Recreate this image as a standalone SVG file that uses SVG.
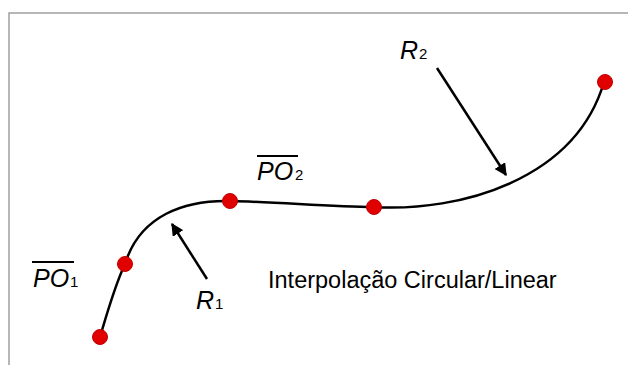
<svg xmlns="http://www.w3.org/2000/svg" width="628" height="365" viewBox="0 0 628 365">
<defs>
<style>
.frame{stroke:#a0a0a0;stroke-width:1.5;fill:none}
.curve{stroke:#000;stroke-width:2.5;fill:none}
.arrow{stroke:#000;stroke-width:2.5;fill:none}
.pt{fill:#e00000;stroke:#c00000;stroke-width:1}
.lbl{font-family:"Liberation Sans",Arial,sans-serif;font-style:italic;font-size:25px;fill:#000}
.sub{font-family:"Liberation Sans",Arial,sans-serif;font-size:15px;fill:#000}
.title{font-family:"Liberation Sans",Arial,sans-serif;font-size:23.5px;fill:#000}
.bar{stroke:#000;stroke-width:2}
</style>
<marker id="ah" viewBox="0 0 10 10" refX="9" refY="5" markerWidth="5" markerHeight="5" orient="auto" markerUnits="strokeWidth">
<path d="M0,0 L10,5 L0,10 z" fill="#000"/>
</marker>
</defs>
<rect width="628" height="365" fill="#fff"/>
<path class="frame" d="M9,365 V13 H628"/>
<g id="connectors">
<path id="trajectory" class="curve" d="M100,337 C108,310 115,285 125,264 C140,215 185,200 230,201 C280,202 330,207 374,207 C460,212 575,180 604,82"/>
<line class="arrow" x1="437" y1="68" x2="506" y2="175" marker-end="url(#ah)"/>
<line class="arrow" x1="207" y1="279" x2="172" y2="224" marker-end="url(#ah)"/>
</g>
<g id="p1"><circle class="pt" cx="100" cy="337" r="7.5"/></g>
<g id="p2"><circle class="pt" cx="125" cy="264" r="7.5"/></g>
<g id="p3"><circle class="pt" cx="230" cy="201" r="7.5"/></g>
<g id="p4"><circle class="pt" cx="374" cy="207" r="7.5"/></g>
<g id="p5"><circle class="pt" cx="605" cy="82" r="7.5"/></g>
<g id="label-R2"><text class="lbl" x="400" y="59">R</text><text class="sub" x="419" y="59">2</text></g>
<g id="label-R1"><text class="lbl" x="196" y="309">R</text><text class="sub" x="215" y="309">1</text></g>
<g id="label-PO1"><line class="bar" x1="32" y1="262" x2="74" y2="262"/><text class="lbl" x="33" y="287">PO</text><text class="sub" x="70" y="287">1</text></g>
<g id="label-PO2"><line class="bar" x1="257" y1="156" x2="298" y2="156"/><text class="lbl" x="257" y="180">PO</text><text class="sub" x="295" y="180">2</text></g>
<g id="title"><text class="title" x="268" y="288">Interpolação Circular/Linear</text></g>
</svg>
